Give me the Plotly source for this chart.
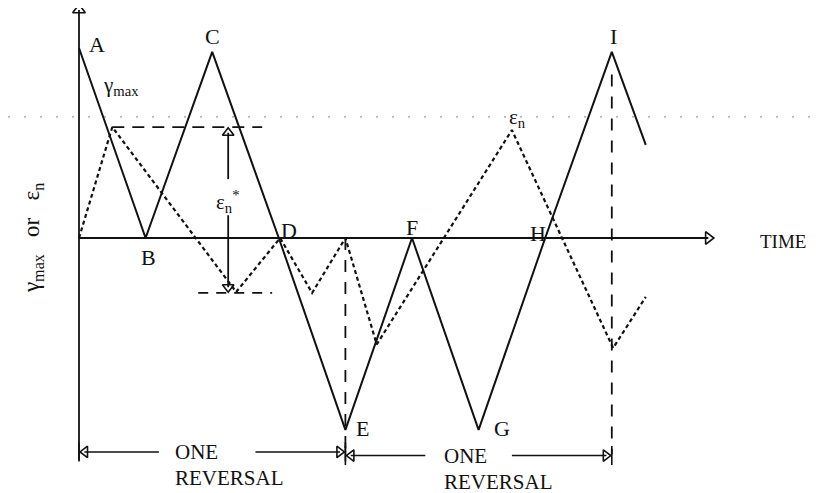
import plotly.graph_objects as go

# time in half-cycles (A=0 ... I=8), amplitude normalised to peak = 1
gamma_t = [0, 1, 2, 3, 4, 5, 6, 7, 8, 8.51]
gamma_v = [1.0, 0, 0.98, 0, -1.01, 0, -1.01, 0, 0.98, 0.49]

eps_t = [0, 0.5, 2.36, 3.02, 3.5, 4.0, 4.47, 6.5, 8.02, 8.51]
eps_v = [0, 0.584, -0.284, 0, -0.289, 0, -0.56, 0.568, -0.579, -0.31]

eps_star_top = 0.584
eps_star_bot = -0.289
reversal_t = [0, 4, 8]

# label positions (t, v)
point_labels = {
    "A": (0.27, 1.016), "B": (1.04, -0.105), "C": (2.01, 1.058),
    "D": (3.15, 0.042), "E": (4.26, -1.0), "F": (5.0, 0.053),
    "G": (6.35, -1.005), "H": (6.89, 0.026), "I": (8.02, 1.058),
}

FONT = "Liberation Serif"
INK = "#111111"

# page has an 8px body margin, so the origin sits at (71, 230) inside the figure
x_rng = [-71 / 66.6, 749 / 66.6]
y_rng = [-263 / 190, 230 / 190]


def line(fig, x, y, dash="solid", width=1.8, color=INK):
    fig.add_trace(go.Scatter(x=x, y=y, mode="lines", hoverinfo="skip",
                             line=dict(color=color, width=width, dash=dash)))


def tri(fig, x, y, symbol, size=11):
    fig.add_trace(go.Scatter(x=[x], y=[y], mode="markers", hoverinfo="skip",
                             marker=dict(symbol=symbol, size=size, color=INK,
                                         line=dict(color=INK, width=1.6))))


def text(fig, x, y, s, size=20, xanchor="center", angle=0):
    fig.add_annotation(x=x, y=y, text=s, showarrow=False, xanchor=xanchor,
                       textangle=angle, font=dict(family=FONT, size=size, color=INK))


fig = go.Figure()

# faint scan line
line(fig, [x_rng[0], x_rng[1]], [0.637, 0.637], dash="2px,14px", width=1.2, color="#9a9a9a")

# axes
line(fig, [0, 0], [1.2, -1.17])
tri(fig, 0, 1.2, "triangle-up-open")
line(fig, [0, 9.45], [0, 0])
tri(fig, 9.45, 0, "triangle-right-open")
text(fig, 10.2, -0.02, "TIME", size=19, xanchor="left")
text(fig, -0.69, 0, "γ<sub>max</sub>   or   ε<sub>n</sub>", size=23, angle=-90)

# gamma_max
line(fig, gamma_t, gamma_v, width=2)
for name, (lx, ly) in point_labels.items():
    text(fig, lx, ly, name, size=22)
text(fig, 0.33, 0.80, "γ<sub>max</sub>", size=21, xanchor="left")

# eps_n
line(fig, eps_t, eps_v, dash="4px,3px", width=2.2)
text(fig, 6.59, 0.63, "ε<sub>n</sub>", size=21)

# eps_n* bounds
line(fig, [0.5, 2.75], [eps_star_top, eps_star_top], dash="12px,8px")
line(fig, [1.79, 2.9], [eps_star_bot, eps_star_bot], dash="10px,8px")
line(fig, [2.24, 2.24], [eps_star_top - 0.03, 0.31])
line(fig, [2.24, 2.24], [0.12, eps_star_bot + 0.03])
tri(fig, 2.24, eps_star_top - 0.03, "triangle-up-open", size=10)
tri(fig, 2.24, eps_star_bot + 0.03, "triangle-down-open", size=10)
text(fig, 2.24, 0.19, "ε<sub>n</sub><sup>*</sup>", size=21)

# reversal markers
for t in reversal_t[1:]:
    line(fig, [t, t], [0.86 if t == 8 else 0, -1.14], dash="12px,10px")

for (t0, t1), gap, lab_t, vy in [((0, 4), (1.2, 2.65), 1.41, -1.126),
                                 ((4, 8), (5.2, 6.5), 5.45, -1.145)]:
    line(fig, [t0 + 0.08, gap[0]], [vy, vy], width=1.6)
    line(fig, [gap[1], t1 - 0.08], [vy, vy], width=1.6)
    tri(fig, t0 + 0.09, vy, "triangle-left-open", size=10)
    tri(fig, t1 - 0.09, vy, "triangle-right-open", size=10)
    line(fig, [t0, t0], [vy + 0.05, vy - 0.05], width=1.6)
    line(fig, [t1, t1], [vy + 0.05, vy - 0.05], width=1.6)
    text(fig, lab_t, vy, "ONE", size=21, xanchor="left")
    text(fig, lab_t, vy - 0.137, "REVERSAL", size=21, xanchor="left")

fig.update_layout(
    width=820, height=493,
    margin=dict(l=0, r=0, t=0, b=0),
    paper_bgcolor="white", plot_bgcolor="white",
    showlegend=False,
    xaxis=dict(range=x_rng, visible=False),
    yaxis=dict(range=y_rng, visible=False),
)

fig.write_html("out.html")
